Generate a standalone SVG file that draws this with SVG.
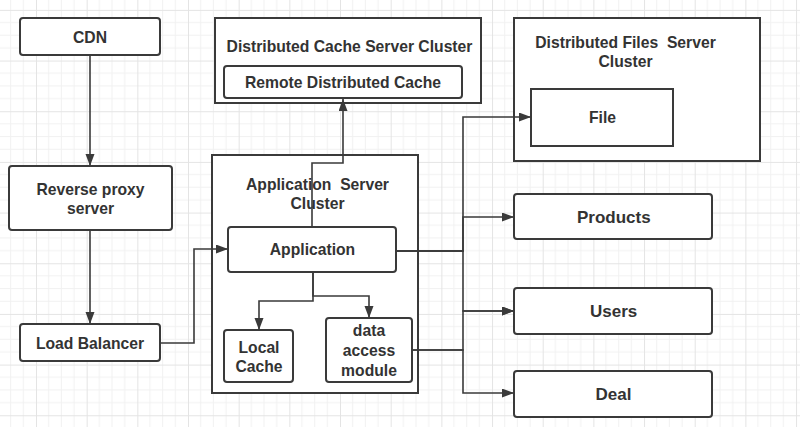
<svg xmlns="http://www.w3.org/2000/svg" width="800" height="427" viewBox="0 0 800 427">
<style>
.box{fill:#fff;stroke:#3a3a3a;stroke-width:2}
.t{font-family:"Liberation Sans",Arial,sans-serif;font-weight:bold;font-size:15.7px;fill:#333;text-anchor:middle;white-space:pre}
.tl{font-size:17px}
.c{fill:none;stroke:#3a3a3a;stroke-width:1.6}
</style>
<defs>
<pattern id="grid" patternUnits="userSpaceOnUse" x="36" y="9.9" width="50.67" height="50.67">
<path d="M12.67,0V50.67M25.33,0V50.67M38,0V50.67M0,12.67H50.67M0,25.33H50.67M0,38H50.67" stroke="#f1f1f1" stroke-width="1"/>
<path d="M0.5,0V50.67M0,0.5H50.67" stroke="#e4e4e4" stroke-width="1"/>
</pattern>
<marker id="arr" markerUnits="userSpaceOnUse" markerWidth="13" markerHeight="10" refX="12" refY="4.5" orient="auto">
<path d="M0,0L12,4.5L0,9z" fill="#3a3a3a"/>
</marker>
</defs>
<rect width="800" height="427" fill="#fff"/>
<rect width="800" height="427" fill="url(#grid)"/>

<g id="cdn"><rect class="box" x="20" y="18" width="140" height="37" rx="3"/><text class="t" x="90" y="42.7">CDN</text></g>
<g id="reverse-proxy"><rect class="box" x="9" y="166" width="163" height="64" rx="3"/><text class="t" x="90.5" y="195">Reverse proxy</text><text class="t" x="90.5" y="213.5">server</text></g>
<g id="load-balancer"><rect class="box" x="20" y="324" width="140" height="37" rx="3"/><text class="t" x="90" y="348.5">Load Balancer</text></g>

<g id="cache-cluster"><rect class="box" x="215" y="18" width="266" height="85"/><text class="t" x="349.5" y="51.7">Distributed Cache Server Cluster</text></g>
<g id="remote-cache"><rect class="box" x="224" y="66" width="238" height="32" rx="3"/><text class="t" x="343" y="87.5">Remote Distributed Cache</text></g>

<g id="app-cluster"><rect class="box" x="212" y="155" width="206" height="238"/><text class="t" x="317.5" y="189.5">Application  Server</text><text class="t" x="317.5" y="208.5">Cluster</text></g>
<g id="application"><rect class="box" x="228" y="227" width="168" height="45" rx="3"/><text class="t" x="312.5" y="255">Application</text></g>
<g id="local-cache"><rect class="box" x="224" y="330" width="69" height="52" rx="3"/><text class="t" x="259" y="352.7">Local</text><text class="t" x="259" y="372.3">Cache</text></g>
<g id="data-access"><rect class="box" x="326" y="318" width="86" height="64" rx="3"/><text class="t" x="369" y="336">data</text><text class="t" x="369" y="355.8">access</text><text class="t" x="369" y="375.6">module</text></g>

<g id="files-cluster"><rect class="box" x="514" y="18" width="246" height="143"/><text class="t" x="625.5" y="48.3">Distributed Files  Server</text><text class="t" x="625.5" y="67.3">Cluster</text></g>
<g id="file"><rect class="box" x="531" y="89" width="142" height="57"/><text class="t" x="602.5" y="122.7">File</text></g>

<g id="products"><rect class="box" x="514" y="194" width="198" height="45" rx="3"/><text class="t tl" x="613.8" y="223">Products</text></g>
<g id="users"><rect class="box" x="514" y="288" width="198" height="46" rx="3"/><text class="t tl" x="613.7" y="316.7">Users</text></g>
<g id="deal"><rect class="box" x="514" y="371" width="198" height="46" rx="3"/><text class="t tl" x="613.5" y="400">Deal</text></g>

<g id="connectors">
<path class="c" d="M90,55V166" marker-end="url(#arr)"/>
<path class="c" d="M90,230V324" marker-end="url(#arr)"/>
<path class="c" d="M160,343H194V249H228" marker-end="url(#arr)"/>
<path class="c" d="M312,227V163H343V99" marker-end="url(#arr)"/>
<path class="c" d="M313,272V301H259V330" marker-end="url(#arr)"/>
<path class="c" d="M313,272V296H369V318" marker-end="url(#arr)"/>
<path class="c" d="M396,251H463V117H531" marker-end="url(#arr)"/>
<path class="c" d="M396,251H463V217H514" marker-end="url(#arr)"/>
<path class="c" d="M396,251H463V311H514" marker-end="url(#arr)"/>
<path class="c" d="M412,350H463V311H514" marker-end="url(#arr)"/>
<path class="c" d="M412,350H463V393H514" marker-end="url(#arr)"/>
</g>
</svg>
